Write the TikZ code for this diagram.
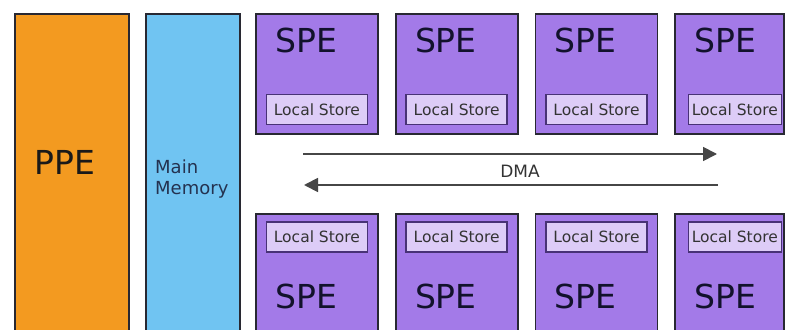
\documentclass[tikz,border=0pt]{standalone}
\usepackage{xcolor}
\usepackage{fontspec}
\setmainfont{DejaVu Sans}
\usepackage{tikz}
\usetikzlibrary{arrows.meta, positioning}
\definecolor{ppeorange}{RGB}{243,154,32}
\definecolor{memblue}{RGB}{112,196,242}
\definecolor{spepurple}{RGB}{163,122,232}
\definecolor{storelilac}{RGB}{221,204,247}
\definecolor{edgegray}{RGB}{40,40,50}
\definecolor{storeedge}{RGB}{72,50,118}
\definecolor{inkblue}{RGB}{18,18,44}
\definecolor{memink}{RGB}{36,50,80}
\definecolor{linegray}{RGB}{70,70,70}
\tikzstyle{unit} = [rectangle, draw=edgegray, line width=1.8pt, inner sep=0pt, anchor=north west]
\tikzstyle{spe} = [unit, fill=spepurple, minimum width=122pt, minimum height=120pt]
\tikzstyle{store} = [rectangle, draw=storeedge, line width=1.5pt, fill=storelilac, minimum width=101pt, minimum height=30pt, inner sep=0pt, text=black!80, font=\fontsize{15.5}{18}\selectfont]
\tikzstyle{bigtext} = [inner sep=0pt, text=inkblue, font=\fontsize{33}{36}\selectfont]
\tikzstyle{dmaarrow} = [line width=1.8pt, draw=linegray, -{Triangle[length=14pt, width=14pt]}]

\begin{document}
\begin{tikzpicture}[x=1pt, y=1pt, node distance=16pt]
    \useasboundingbox (0,0) rectangle (789,329);
    \clip (0,0) rectangle (789,329);
    \fill[white] (0,0) rectangle (789,329);

    % PPE and main memory columns
    \node [unit, fill=ppeorange, minimum width=114pt, minimum height=330pt] (ppe) at (14,316) {};
    \node [unit, fill=memblue, minimum width=94pt, minimum height=330pt] (mem) at (145,316) {};
    \node [bigtext, text=black!90] (ppe_txt) at ([xshift=-7pt, yshift=-149pt]ppe.north) {PPE};
    \node [anchor=west, align=left, inner sep=0pt, text=memink, font=\fontsize{18}{21}\selectfont] (mem_txt) at ([xshift=10pt, yshift=-166pt]mem.north west) {Main\\Memory};

    % SPEs, upper row
    \node [spe] (spe_t1) at (255,316) {};
    \node [spe, right=of spe_t1] (spe_t2) {};
    \node [spe, right=of spe_t2] (spe_t3) {};
    \node [spe, right=of spe_t3, minimum width=109pt] (spe_t4) {};

    % SPEs, lower row
    \node [spe, below=78.5pt of spe_t1] (spe_b1) {};
    \node [spe, right=of spe_b1] (spe_b2) {};
    \node [spe, right=of spe_b2] (spe_b3) {};
    \node [spe, right=of spe_b3, minimum width=109pt] (spe_b4) {};

    % Local stores
    \node [store, above=9.5pt of spe_t1.south] (ls_t1) {Local Store};
    \node [store, above=9.5pt of spe_t2.south] (ls_t2) {Local Store};
    \node [store, above=9.5pt of spe_t3.south] (ls_t3) {Local Store};
    \node [store, above=9.5pt of spe_t4.south, xshift=5pt, minimum width=93pt] (ls_t4) {Local Store};
    \node [store, below=8pt of spe_b1.north] (ls_b1) {Local Store};
    \node [store, below=8pt of spe_b2.north] (ls_b2) {Local Store};
    \node [store, below=8pt of spe_b3.north] (ls_b3) {Local Store};
    \node [store, below=8pt of spe_b4.north, xshift=5pt, minimum width=93pt] (ls_b4) {Local Store};

    % SPE labels
    \node [bigtext, anchor=base west] (spe_t1_txt) at ([xshift=20pt, yshift=-40pt]spe_t1.north west) {SPE};
    \node [bigtext, anchor=base west] (spe_t2_txt) at ([xshift=20pt, yshift=-40pt]spe_t2.north west) {SPE};
    \node [bigtext, anchor=base west] (spe_t3_txt) at ([xshift=20pt, yshift=-40pt]spe_t3.north west) {SPE};
    \node [bigtext, anchor=base west] (spe_t4_txt) at ([xshift=20pt, yshift=-40pt]spe_t4.north west) {SPE};
    \node [bigtext, anchor=base west] (spe_b1_txt) at ([xshift=20pt, yshift=-95pt]spe_b1.north west) {SPE};
    \node [bigtext, anchor=base west] (spe_b2_txt) at ([xshift=20pt, yshift=-95pt]spe_b2.north west) {SPE};
    \node [bigtext, anchor=base west] (spe_b3_txt) at ([xshift=20pt, yshift=-95pt]spe_b3.north west) {SPE};
    \node [bigtext, anchor=base west] (spe_b4_txt) at ([xshift=20pt, yshift=-95pt]spe_b4.north west) {SPE};

    % DMA arrows
    \coordinate (dma_tl) at (303,175);
    \coordinate (dma_tr) at (717,175);
    \coordinate (dma_bl) at (304,144);
    \coordinate (dma_br) at (718,144);
    \node [inner sep=0pt, text=black!80, font=\fontsize{17}{20}\selectfont] (dma) at (520,158) {DMA};
    \draw [dmaarrow] (dma_tl) -- (dma_tr);
    \draw [dmaarrow] (dma_br) -- (dma_bl);
\end{tikzpicture}
\end{document}
